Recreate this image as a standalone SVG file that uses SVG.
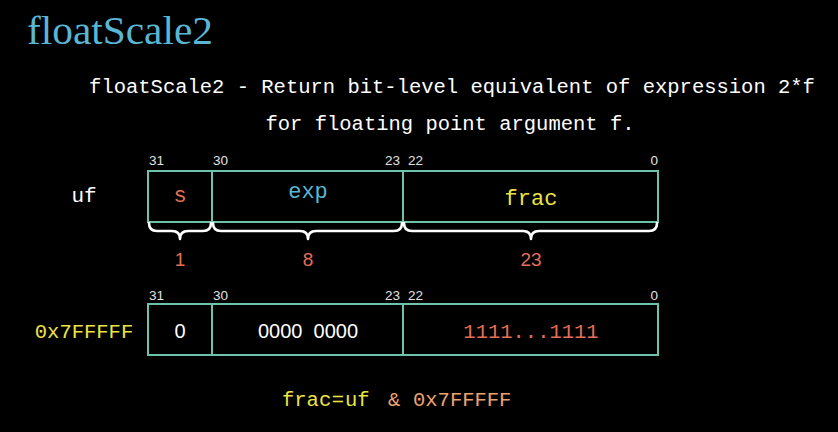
<svg xmlns="http://www.w3.org/2000/svg" width="838" height="432" viewBox="0 0 838 432">
<defs>
<style>
.mono{font-family:"Liberation Mono","DejaVu Sans Mono",monospace;}
.sans{font-family:"Liberation Sans","DejaVu Sans",sans-serif;}
.box{fill:none;stroke:#6cc2ab;stroke-width:2;}
.div{stroke:#6cc2ab;stroke-width:2;}
.bit{font-family:"Liberation Sans","DejaVu Sans",sans-serif;font-size:13.5px;fill:#e0e0e0;}
.brace{fill:none;stroke:#ffffff;stroke-width:2.6;stroke-linejoin:round;stroke-linecap:round;}
.red{fill:#e26f58;}
.blue{fill:#5ab6d2;}
.yellow{fill:#ece443;}
.white{fill:#ffffff;}
.orange{fill:#eaa36f;}
</style>
</defs>
<rect x="0" y="0" width="838" height="432" fill="#000000"/>

<g id="title">
<text x="27" y="44" font-family="Liberation Serif, DejaVu Serif, serif" font-size="39" textLength="186" lengthAdjust="spacingAndGlyphs" class="blue">floatScale2</text>
</g>

<g id="description">
<text x="452" y="93" class="mono white" font-size="20.5" text-anchor="middle">floatScale2 - Return bit-level equivalent of expression 2*f</text>
<text x="450" y="130" class="mono white" font-size="20.5" text-anchor="middle">for floating point argument f.</text>
</g>

<g id="uf-row">
<text x="84" y="202" class="mono white" font-size="21" text-anchor="middle">uf</text>
<g id="uf-bits">
<text x="149" y="165" class="bit">31</text>
<text x="213" y="165" class="bit">30</text>
<text x="400" y="165" class="bit" text-anchor="end">23</text>
<text x="408" y="165" class="bit">22</text>
<text x="658" y="165" class="bit" text-anchor="end">0</text>
</g>
<g id="uf-box">
<rect x="148" y="171" width="510" height="51" class="box"/>
<line x1="212" y1="171" x2="212" y2="222" class="div"/>
<line x1="403" y1="171" x2="403" y2="222" class="div"/>
</g>
<g id="uf-s"><text x="180" y="202" class="mono red" font-size="22" text-anchor="middle">s</text></g>
<g id="uf-exp"><text x="308" y="198" class="mono blue" font-size="22" text-anchor="middle">exp</text></g>
<g id="uf-frac"><text x="531" y="205" class="mono yellow" font-size="22" text-anchor="middle">frac</text></g>
</g>

<g id="connectors">
<path class="brace" d="M149,223 Q149,231 157,231 L172,231 Q180,231 180,239 Q180,231 188,231 L203,231 Q211,231 211,223"/>
<path class="brace" d="M213,223 Q213,231 221,231 L300,231 Q308,231 308,239 Q308,231 316,231 L394,231 Q402,231 402,223"/>
<path class="brace" d="M404,223 Q404,231 412,231 L523,231 Q531,231 531,239 Q531,231 539,231 L649,231 Q657,231 657,223"/>
</g>

<g id="sizes">
<text x="180" y="266" class="sans red" font-size="19" text-anchor="middle">1</text>
<text x="308" y="266" class="sans red" font-size="19" text-anchor="middle">8</text>
<text x="531" y="266" class="sans red" font-size="19" text-anchor="middle">23</text>
</g>

<g id="mask-row">
<text x="84" y="338" class="mono yellow" font-size="20.5" text-anchor="middle">0x7FFFFF</text>
<g id="mask-bits">
<text x="149" y="300" class="bit">31</text>
<text x="213" y="300" class="bit">30</text>
<text x="400" y="300" class="bit" text-anchor="end">23</text>
<text x="408" y="300" class="bit">22</text>
<text x="658" y="300" class="bit" text-anchor="end">0</text>
</g>
<g id="mask-box">
<rect x="148" y="304" width="510" height="51" class="box"/>
<line x1="212" y1="304" x2="212" y2="355" class="div"/>
<line x1="403" y1="304" x2="403" y2="355" class="div"/>
</g>
<g id="mask-s"><text x="180" y="338" class="sans white" font-size="20" text-anchor="middle">0</text></g>
<g id="mask-exp"><text x="308" y="338" class="sans white" font-size="20" text-anchor="middle" xml:space="preserve">0000  0000</text></g>
<g id="mask-frac"><text x="531" y="338" class="mono red" font-size="20.5" text-anchor="middle">1111...1111</text></g>
</g>

<g id="formula">
<text x="282" y="406" class="mono yellow" font-size="20.5">frac</text>
<text x="338" y="406" class="mono yellow" font-size="20.5" text-anchor="middle">=</text>
<text x="345" y="406" class="mono yellow" font-size="20.5">uf</text>
<text x="388" y="406" class="mono orange" font-size="20.5">&amp;</text>
<text x="413" y="406" class="mono orange" font-size="20.5">0x7FFFFF</text>
</g>
</svg>
